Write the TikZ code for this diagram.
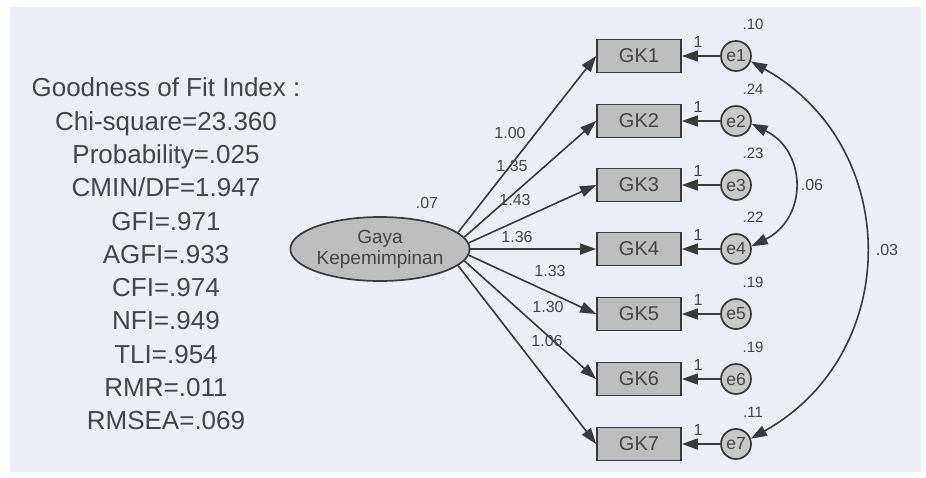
\documentclass[tikz,border=0pt]{standalone}
\usepackage{fontspec}
\setmainfont{Liberation Sans}
\usetikzlibrary{arrows.meta,shapes.geometric}
\definecolor{bgc}{HTML}{ECEEF5}
\definecolor{ink}{HTML}{3A3A3A}
\definecolor{txt}{HTML}{454545}
\definecolor{boxc}{HTML}{BDBDBD}
\definecolor{circc}{HTML}{C8C8C8}
\tikzset{
  obs/.style={draw=ink,line width=1.7pt,fill=boxc,minimum width=84pt,minimum height=33pt,inner sep=0pt,text=txt,font=\fontsize{20}{20}\selectfont},
  err/.style={circle,draw=ink,line width=1.7pt,fill=circc,minimum size=30pt,inner sep=0pt,text=txt,font=\fontsize{17.5}{17.5}\selectfont},
  lat/.style={ellipse,draw=ink,line width=1.7pt,fill=boxc,minimum width=170pt,minimum height=64pt,inner sep=0pt,text=txt,align=center,font=\fontsize{19}{21}\selectfont},
  lbl/.style={text=txt,inner sep=0pt,font=\fontsize{16}{16}\selectfont},
  vlbl/.style={text=txt,inner sep=0pt,font=\fontsize{15}{15}\selectfont},
  path/.style={draw=ink,line width=1.6pt,-{Triangle[length=16pt,width=11pt]}},
  cov/.style={draw=ink,line width=1.6pt,{Triangle[length=16pt,width=11pt]}-{Triangle[length=16pt,width=11pt]}},
}
\begin{document}
\begin{tikzpicture}[x=1pt,y=-1pt]
\useasboundingbox (0,0) rectangle (926,477);
\fill[white] (0,0) rectangle (926,477);
\fill[bgc] (10,7) rectangle (921,472);
% fit index block
\node[text=txt,align=center,inner sep=0pt,font=\fontsize{26}{33.3}\selectfont] (fit) at (166,254)
 {Goodness of Fit Index :\\Chi-square=23.360\\Probability=.025\\CMIN/DF=1.947\\GFI=.971\\AGFI=.933\\CFI=.974\\NFI=.949\\TLI=.954\\RMR=.011\\RMSEA=.069};
% latent
\node[lat] (G) at (380,249) {Gaya\\Kepemimpinan};
\node[lbl] (v07) at (427,203) {.07};
% observed + errors
\foreach \i/\y/\v in {1/56/.10,2/121/.24,3/185/.23,4/249/.22,5/314/.19,6/379/.19,7/444/.11}{
  \node[obs] (GK\i) at (639,\y) {GK\i};
  \node[err] (e\i) at (736,\y) {e\i};
  \node[vlbl] (v\i) at (753,\y-32) {\v};
  \node[lbl] (one\i) at (698,\y-14) {1};
  \draw[path] (e\i) -- (GK\i);
}
% loadings
\draw[path] (G.12) -- (GK1.west);
\draw[path] (G.8) -- (GK2.west);
\draw[path] (G.4) -- (GK3.west);
\draw[path] (G.0) -- (GK4.west);
\draw[path] (G.-4) -- (GK5.west);
\draw[path] (G.-8) -- (GK6.west);
\draw[path] (G.-12) -- (GK7.west);
\node[lbl] (l1) at (510,133) {1.00};
\node[lbl] (l2) at (512,166) {1.35};
\node[lbl] (l3) at (515,200) {1.43};
\node[lbl] (l4) at (517,237) {1.36};
\node[lbl] (l5) at (550,271) {1.33};
\node[lbl] (l6) at (548,307) {1.30};
\node[lbl] (l7) at (547,341) {1.06};
% covariances
\draw[cov] (e2.-10) .. controls +(56,28) and +(56,-28) .. (e4.10);
\node[lbl] (c24) at (812,185) {.06};
\draw[cov] (e1.-20) .. controls +(152,85) and +(152,-85) .. (e7.20);
\node[lbl] (c17) at (887,250) {.03};
\end{tikzpicture}
\end{document}
